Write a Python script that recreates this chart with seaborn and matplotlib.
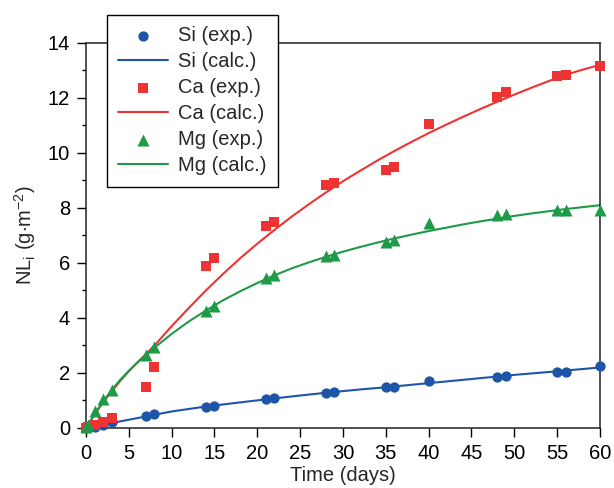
import seaborn as sns
import matplotlib.pyplot as plt
from matplotlib.ticker import MultipleLocator

# measured points (days)
days = [0, 0.25, 1, 2, 3, 7, 8, 14, 15, 21, 22, 28, 29, 35, 36, 40, 48, 49, 55, 56, 60]
si_exp = [0, 0.02, 0.05, 0.12, 0.23, 0.43, 0.50, 0.78, 0.80, 1.05, 1.08, 1.27, 1.30,
          1.48, 1.50, 1.71, 1.87, 1.90, 2.04, 2.05, 2.24]
ca_exp = [0, 0.05, 0.12, 0.23, 0.35, 1.48, 2.22, 5.88, 6.18, 7.35, 7.50, 8.82, 8.92,
          9.38, 9.48, 11.04, 12.03, 12.23, 12.81, 12.82, 13.17]
mg_exp = [0.02, 0.12, 0.63, 1.07, 1.39, 2.65, 2.93, 4.24, 4.45, 5.45, 5.57, 6.25, 6.28,
          6.77, 6.83, 7.46, 7.73, 7.78, 7.94, 7.94, 7.93]

# calculated curves
si_days = [0, 1, 2, 3, 5, 7, 10, 14, 18, 21, 25, 28, 32, 35, 40, 45, 50, 55, 60]
si_calc = [0, 0.06, 0.12, 0.18, 0.30, 0.42, 0.60, 0.78, 0.93, 1.04, 1.18, 1.28, 1.40,
           1.48, 1.63, 1.78, 1.93, 2.06, 2.20]

ca_days = [0, 1, 2, 3, 4, 5, 6, 7, 8, 10, 12, 14, 16, 18, 20, 22, 24, 26, 28, 30, 32,
           34, 36, 38, 40, 42, 44, 46, 48, 50, 52, 54, 56, 58, 60]
ca_calc = [0, 0.48, 0.93, 1.33, 1.71, 2.06, 2.38, 2.69, 3.00, 3.70, 4.36, 5.00, 5.60,
           6.17, 6.70, 7.20, 7.68, 8.13, 8.56, 8.97, 9.35, 9.72, 10.07, 10.40, 10.72,
           11.02, 11.31, 11.59, 11.86, 12.12, 12.37, 12.61, 12.84, 13.03, 13.20]

mg_days = [0, 1, 2, 3, 4, 5, 6, 7, 8, 10, 12, 14, 16, 18, 20, 22, 24, 26, 28, 30, 32,
           34, 36, 38, 40, 42, 44, 46, 48, 50, 52, 54, 56, 58, 60]
mg_calc = [0, 0.50, 0.97, 1.38, 1.75, 2.08, 2.38, 2.65, 2.92, 3.42, 3.87, 4.27, 4.64,
           4.97, 5.27, 5.55, 5.80, 6.02, 6.22, 6.41, 6.58, 6.74, 6.89, 7.03, 7.16,
           7.28, 7.40, 7.51, 7.61, 7.71, 7.80, 7.88, 7.96, 8.03, 8.10]

blue = "#1f55a8"
red = "#ee3333"
green = "#1f9a48"

sns.set_style("ticks")
plt.rcParams['font.family'] = ['Liberation Sans', 'DejaVu Sans']
plt.rcParams['mathtext.fontset'] = 'custom'
plt.rcParams['mathtext.rm'] = 'Liberation Sans'
fs = 14.5

fig, ax = plt.subplots(figsize=(6.14, 4.88), dpi=100)
fig.subplots_adjust(left=0.140, right=0.977, bottom=0.123, top=0.912)

series = [
    ("Si", si_exp, si_days, si_calc, blue, "o", 55),
    ("Ca", ca_exp, ca_days, ca_calc, red, "s", 60),
    ("Mg", mg_exp, mg_days, mg_calc, green, "^", 75),
]

handles = []
labels = []
for name, exp, cd, calc, col, mk, sz in series:
    sns.lineplot(x=cd, y=calc, color=col, linewidth=1.5, ax=ax, zorder=2)
    line = ax.lines[-1]
    sns.scatterplot(x=days, y=exp, color=col, marker=mk, s=sz, linewidth=0,
                    ax=ax, zorder=3, clip_on=False)
    pts = ax.collections[-1]
    handles += [pts, line]
    labels += [f"{name} (exp.)", f"{name} (calc.)"]

ax.set_xlim(0, 60)
ax.set_ylim(0, 14)
ax.xaxis.set_major_locator(MultipleLocator(5))
ax.yaxis.set_major_locator(MultipleLocator(2))
ax.yaxis.set_minor_locator(MultipleLocator(1))
ax.tick_params(axis='both', which='major', length=6.5, width=1, color='black',
               labelsize=fs, labelcolor='black', pad=5)
ax.tick_params(axis='y', which='minor', length=3, width=1, color='black')
for sp in ax.spines.values():
    sp.set_color('#222222')
    sp.set_linewidth(1.1)

ax.set_xlabel("Time (days)", fontsize=fs, labelpad=2)
ax.set_ylabel(r"NL$_\mathrm{i}$ (g$\cdot$m$^{-2}$)", fontsize=fs, labelpad=7)

leg = ax.legend(handles, labels, loc='upper left', bbox_to_anchor=(0.174, 0.969),
                bbox_transform=fig.transFigure, borderaxespad=0, fontsize=fs,
                frameon=True, fancybox=False, edgecolor='black', framealpha=1,
                handlelength=2.5, handletextpad=0.5, labelspacing=0.35,
                borderpad=0.55, scatterpoints=1)
leg.get_frame().set_linewidth(1.0)
leg.set_zorder(5)

fig.savefig("out.png", dpi=100)
